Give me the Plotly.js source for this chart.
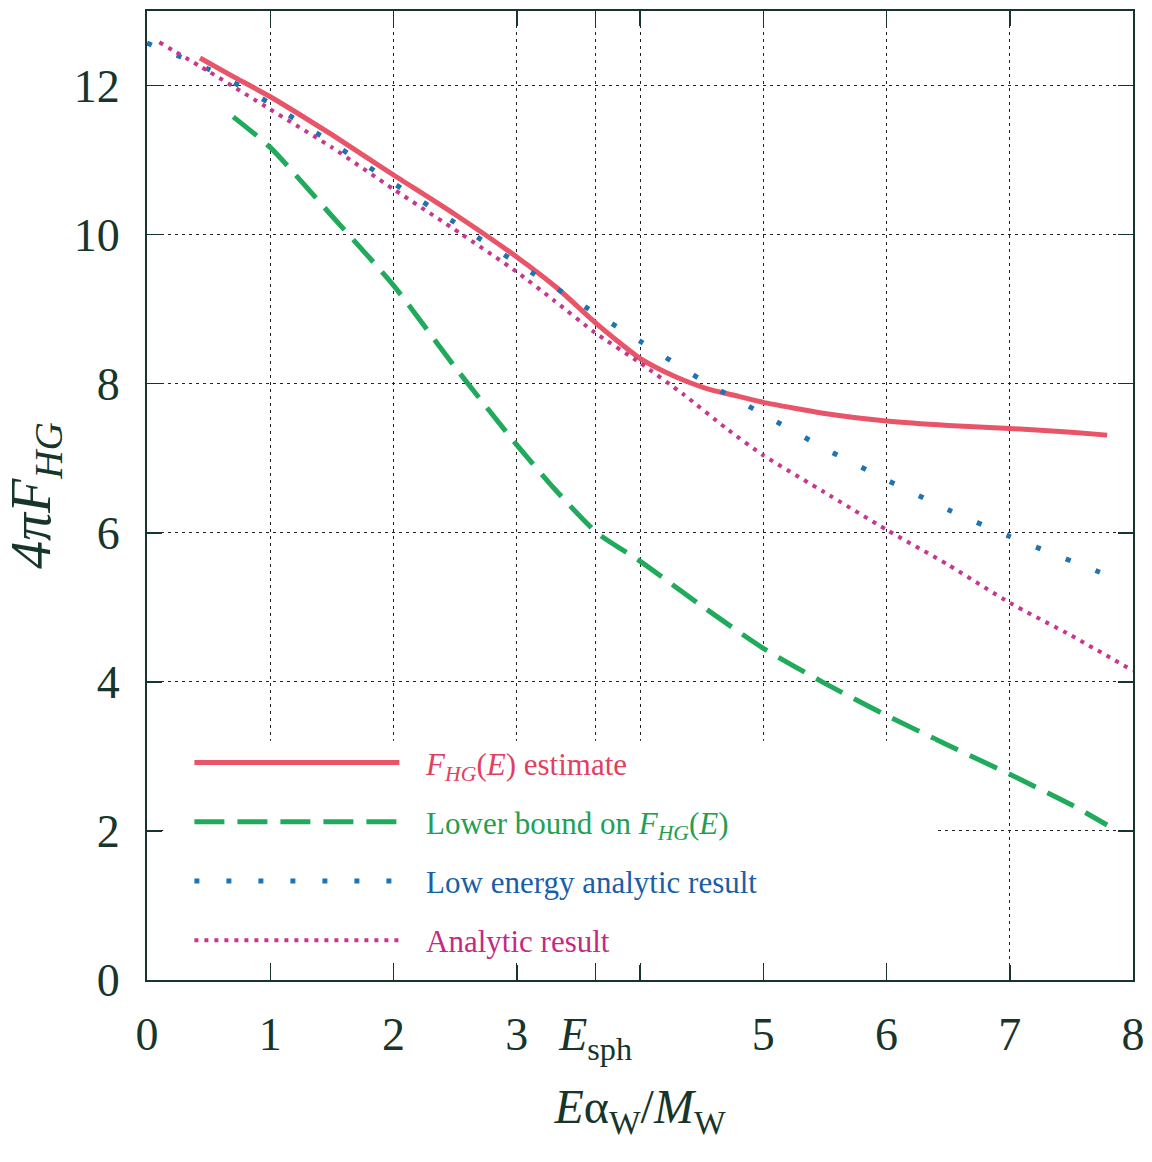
<!DOCTYPE html>
<html>
<head>
<meta charset="utf-8">
<script src="https://cdn.plot.ly/plotly-3.0.1.min.js"></script>
<style>html,body{margin:0;padding:0;background:#fff;}#chart{width:1152px;height:1162px;}</style>
</head>
<body>
<div id="chart"></div>
<script>
// Estimate F_HG(E)
const redX = [0.43, 0.7, 1.0, 1.5, 2.0, 2.5, 3.0, 3.33, 3.63, 3.85, 4.0, 4.2, 4.35, 4.57, 4.8, 5.0, 5.5, 6.0, 6.5, 7.0, 7.5, 7.79];
const redY = [12.37, 12.12, 11.85, 11.34, 10.80, 10.27, 9.70, 9.28, 8.83, 8.53, 8.34, 8.16, 8.05, 7.92, 7.83, 7.75, 7.60, 7.50, 7.44, 7.40, 7.35, 7.31];
// Lower bound on F_HG(E)
const greenX = [0.70, 1.0, 1.5, 2.0, 2.5, 3.0, 3.3, 3.65, 4.0, 4.5, 5.0, 5.5, 6.0, 6.5, 7.0, 7.5, 7.79];
const greenY = [11.58, 11.17, 10.25, 9.32, 8.22, 7.18, 6.60, 6.00, 5.62, 5.02, 4.45, 3.98, 3.55, 3.15, 2.76, 2.35, 2.08];
// Low energy analytic result
const blueX = [0.0, 0.5, 1.0, 1.5, 2.0, 2.5, 3.0, 3.5, 4.0, 4.5, 5.0, 5.5, 6.0, 6.5, 7.0, 7.5, 7.81];
const blueY = [12.57, 12.22, 11.76, 11.23, 10.69, 10.16, 9.62, 9.09, 8.57, 8.05, 7.59, 7.13, 6.71, 6.31, 5.95, 5.62, 5.42];
// Analytic result
const magX = [0.1, 0.5, 1.0, 1.5, 2.0, 2.54, 3.0, 3.3, 3.63, 4.0, 4.35, 4.7, 5.0, 5.5, 6.0, 6.5, 7.0, 7.5, 8.0];
const magY = [12.58, 12.19, 11.68, 11.17, 10.61, 10.02, 9.50, 9.12, 8.69, 8.28, 7.86, 7.40, 7.04, 6.54, 6.04, 5.57, 5.06, 4.62, 4.15];

const xTickVals = [0, 1, 2, 3, 3.64, 4, 5, 6, 7, 8];
const xTickText = ['0', '1', '2', '3', '<i>E</i><sub>sph</sub>', ' ', '5', '6', '7', '8'];
const yTickVals = [0, 2, 4, 6, 8, 10, 12];

const names = [
  '<span style="color:#e2405e">&nbsp;&nbsp;&#8201;<i>F<sub>HG</sub></i>(<i>E</i>) estimate</span>',
  '<span style="color:#22a050">&nbsp;&nbsp;&#8201;Lower bound on <i>F<sub>HG</sub></i>(<i>E</i>)</span>',
  '<span style="color:#1a5ea8">&nbsp;&nbsp;&#8201;Low energy analytic result</span>',
  '<span style="color:#c42a84">&nbsp;&nbsp;&#8201;Analytic result</span>'
];

const ink = '#17362b';
const traces = [
  {x: redX, y: redY, name: names[0], legendgroup: 'a', mode: 'lines', line: {color: '#e85468', width: 5, shape: 'spline', smoothing: 0.5}},
  {x: greenX, y: greenY, name: names[1], legendgroup: 'b', mode: 'lines', line: {color: '#1faa5c', width: 5, dash: '30px,13px', shape: 'spline', smoothing: 0.6}},
  {x: blueX, y: blueY, name: names[2], legendgroup: 'c', mode: 'lines', line: {color: '#1f72b4', width: 5, dash: '5px,27px', shape: 'spline', smoothing: 0.6}},
  {x: magX, y: magY, name: names[3], legendgroup: 'd', mode: 'lines', line: {color: '#c8368e', width: 4, dash: '4px,6px', shape: 'spline', smoothing: 0.5}}
];

const axisCommon = {
  showline: true, mirror: 'ticks', linecolor: ink, linewidth: 2,
  ticks: 'inside', ticklen: 15, tickwidth: 1.5, tickcolor: ink,
  showgrid: true, gridcolor: '#222', gridwidth: 1, griddash: '3px,4px',
  zeroline: false, automargin: false, tickangle: 0,
  tickfont: {family: 'Liberation Serif', size: 46, color: ink}
};

const layout = {
  width: 1152, height: 1162,
  margin: {l: 147, r: 19, t: 11, b: 182},
  paper_bgcolor: '#fff', plot_bgcolor: '#fff',
  showlegend: true,
  legend: {
    x: 0.043, y: 0.252, xanchor: 'left', yanchor: 'top',
    bgcolor: 'rgba(0,0,0,0)', borderwidth: 0,
    font: {family: 'Liberation Serif', size: 31, color: ink},
    itemwidth: 205, tracegroupgap: 16, traceorder: 'grouped'
  },
  // white backing behind the key, hiding the grid there (as in the original figure)
  shapes: [{
    type: 'rect', xref: 'paper', yref: 'paper', layer: 'above',
    x0: 0.0165, x1: 0.799, y0: 0.018, y1: 0.247,
    fillcolor: '#ffffff', line: {width: 0}
  }],
  xaxis: Object.assign({}, axisCommon, {
    range: [0, 8], tickmode: 'array', tickvals: xTickVals, ticktext: xTickText,
    ticklabelstandoff: 13,
    title: {text: '<i>E</i>α<sub>W</sub>/<i>M</i><sub>W</sub>', standoff: 24,
            font: {family: 'Liberation Serif', size: 48, color: ink}}
  }),
  yaxis: Object.assign({}, axisCommon, {
    range: [0, 13], tickmode: 'array', tickvals: yTickVals,
    ticklabelstandoff: 16,
    title: {text: '<i>4πF<sub>HG</sub></i>', standoff: 18,
            font: {family: 'Liberation Serif', size: 56, color: ink}}
  })
};

Plotly.newPlot('chart', traces, layout, {displayModeBar: false, staticPlot: true});
</script>
</body>
</html>
